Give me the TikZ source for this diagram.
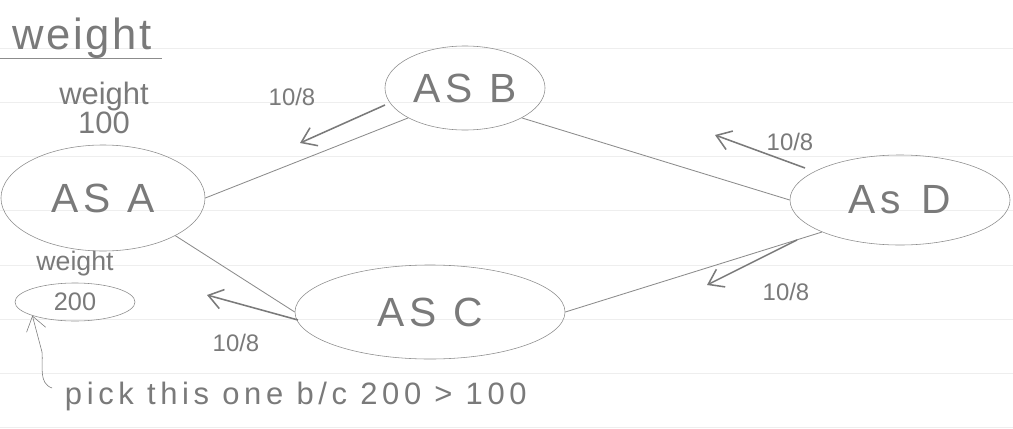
\documentclass[tikz,border=0pt]{standalone}
\usepackage{fontspec}
\setmainfont{Liberation Sans}
\usepackage{xcolor}
\usetikzlibrary{positioning,arrows.meta,shapes.geometric}
\definecolor{paper}{HTML}{FFFFFF}
\definecolor{rule}{HTML}{EEEEEE}
\definecolor{pencil}{HTML}{8C8C8C}
\definecolor{lead}{HTML}{7A7A7A}

\tikzset{
  asnode/.style={ellipse,draw=pencil,thin,text=lead,inner sep=0pt,font=\fontsize{29}{34}\selectfont\addfontfeature{LetterSpace=12}},
  link/.style={draw=pencil,semithick},
  flow/.style={draw=lead,line width=1.1pt,-{Straight Barb[length=10pt,width=14pt]}},
  rate/.style={text=lead,font=\fontsize{17}{20}\selectfont},
  note/.style={text=lead,align=center}
}

\begin{document}
\begin{tikzpicture}[x=0.025cm,y=-0.025cm]
  \useasboundingbox[fill=paper] (0,0) rectangle (1013,428);
  % ruled paper
  \foreach \k in {0,...,7}
    \draw[rule,thin] (0,48+54.2*\k) -- (1013,48+54.2*\k);

  % the four systems
  \node[asnode,minimum width=5.1cm,minimum height=2.65cm] (asa) at (103,198) {AS A};
  \node[asnode,minimum width=4.0cm,minimum height=2.1cm] (asb) at (465,88) {AS B};
  \node[asnode,minimum width=6.75cm,minimum height=2.35cm] (asc) at (430,312) {AS C};
  \node[asnode,minimum width=5.5cm,minimum height=2.25cm] (asd) at (900,200) {As\enspace D};

  % links
  \draw[link] (asa.east) -- (asb.south west);
  \draw[link] (asa.south east) -- (asc.west);
  \draw[link] (asb.south east) -- (asd.west);
  \draw[link] (asc.east) -- (asd.south west);

  % announcements
  \coordinate (fab) at (385,105);  \coordinate (tab) at (300,143);
  \coordinate (fca) at (298,320);  \coordinate (tca) at (207,295);
  \coordinate (fdb) at (805,168);  \coordinate (tdb) at (715,135);
  \coordinate (fdc) at (797,240);  \coordinate (tdc) at (707,285);
  \draw[flow] (fab) -- (tab);
  \draw[flow] (fca) -- (tca);
  \draw[flow] (fdb) -- (tdb);
  \draw[flow] (fdc) -- (tdc);
  \node[rate] (rab) at (292,97) {10/8};
  \node[rate] (rca) at (236,343) {10/8};
  \node[rate] (rdb) at (790,142) {10/8};
  \node[rate] (rdc) at (786,292) {10/8};

  % weights
  \node[note,font=\fontsize{31}{32}\selectfont\addfontfeature{LetterSpace=6}] (title) at (82,38) {weight};
  \draw[pencil,semithick] (0,58) -- (162,58);
  \node[note,font=\fontsize{22}{21}\selectfont] (w100) at (104,108) {weight\\100};
  \node[asnode,minimum width=3cm,minimum height=0.95cm,font=\fontsize{18}{20}\selectfont] (w200) at (75,302) {200};
  \node[note,font=\fontsize{19}{20}\selectfont,above=1pt of w200] (wlab) {weight};

  % choice
  \node[note,font=\fontsize{22}{24}\selectfont\addfontfeature{LetterSpace=15},anchor=west] (pick) at (60,396) {pick this one b/c 200 > 100};
  \coordinate (hook) at (52,388);
  \draw[flow,thin] (hook) to[out=160,in=-85] (42,352) -- (w200.south west);
\end{tikzpicture}
\end{document}
